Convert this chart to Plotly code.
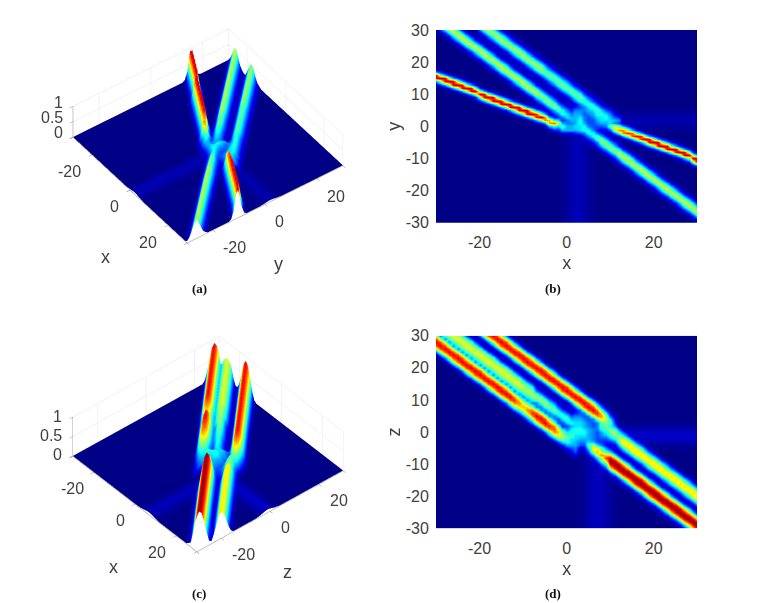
import plotly.graph_objects as go

# Cross-section samples: "x:first_y:values", one token per x column.
# Each value character is base 36, in twentieths of the field height (k = 1.0).
B_RIDGE_LEFT_RED = """
-30:13:16ii61 -29:13:3aja3 -28:12:16ii61 -27:12:3aja3 -26:11:16ii61 -25:11:3aja3
-24:10:16ii61 -23:10:3aja3 -22:9:16ii61 -21:9:3aja3 -20:8:3aja3 -19:7:16ii61
-18:7:3aja3 -17:6:16ii61 -16:6:3aja3 -15:5:16ii61 -14:5:3aja3 -13:4:16ii61
-12:4:3aja3 -11:3:16ii61 -10:3:3aja3 -9:2:16ii61 -8:2:3aja3 -7:1:16hh61
-6:1:3aja3 -5:0:16ff61 -4:-1:16ee61 -3:-1:38g83 -2:-1:37c73 -1:-2:16961
"""
B_RIDGE_RIGHT_RED = """
10:-2:14a41 11:-3:15cc51 12:-3:29f92 13:-4:16ff61 14:-4:3aha3 15:-5:16gg61
16:-5:3aia3 17:-6:16hh61 18:-6:3aja3 19:-7:16ii61 20:-7:3aja3 21:-8:16ii61
22:-8:3aja3 23:-9:16ii61 24:-9:3aja3 25:-10:16ii61 26:-10:3aja3 27:-11:16ii61
28:-11:3aja3 29:-12:3aja3 30:-13:16ii61
"""
B_RIDGE_LOWER_GREEN = """
-29:29:137bb731 -28:28:137bb731 -27:27:137bb731 -26:26:137bb731 -25:25:137bb731
-24:24:137bb731 -23:23:137bb731 -22:22:137bb731 -21:21:137bb731 -20:20:137bb731
-19:19:137bb731 -18:18:137bb731 -17:17:137bb731 -16:16:137bb731 -15:15:137bb731
-14:14:137bb731 -13:13:137bb731 -12:12:137bb731 -11:11:137bb731 -10:10:137bb731
-9:9:137bb731 -8:8:137bb731 -7:7:137bb731 -6:6:136aa631 -5:5:136aa631
-4:4:136aa631 -3:3:136aa631 -2:2:13599531 -1:1:13588531 0:0:13577531 1:-1:13566531
"""
B_RIDGE_UPPER_GREEN = """
-20:28:1259b9521 -19:27:1259b9521 -18:26:1259b9521 -17:25:1259b9521 -16:24:1259b9521
-15:23:1259b9521 -14:22:1259b9521 -13:21:1259b9521 -12:20:1259b9521 -11:19:1259b9521
-10:18:1259b9521 -9:17:1259b9521 -8:16:1259b9521 -7:15:1259b9521 -6:14:1259b9521
-5:13:1258a8521 -4:12:1258a8521 -3:11:1258a8521 -2:10:1258a8521 -1:9:1258a8521
0:8:1258a8521 1:7:1258a8521 2:6:1258a8521 3:5:1258a8521 4:4:124797421
5:3:124797421 6:2:124797421 7:1:124797421 8:0:124686421 9:-1:124686421 10:-2:124565421
"""
B_RIDGE_RIGHT_GREEN = """
3:-3:13577531 4:-4:13588531 5:-5:13588531 6:-6:13588531 7:-7:13599531
8:-8:136aa631 9:-9:136aa631 10:-10:136aa631 11:-11:136aa631 12:-12:137bb731
13:-13:137bb731 14:-14:137bb731 15:-15:137bb731 16:-16:137bb731 17:-17:137bb731
18:-18:137bb731 19:-19:137bb731 20:-20:137bb731 21:-21:137bb731 22:-22:137bb731
23:-23:137bb731 24:-24:137bb731 25:-25:137bb731 26:-26:137bb731 27:-27:137bb731
28:-28:137bb731 29:-29:137bb731 30:-30:137bb731
"""
B_CENTRE = """
-2:-3:013200000000 -1:-3:025653110000 0:-3:026654322100 1:-3:026655543210
2:-3:036766665321 3:-3:147788765432 4:-3:256665545543 5:-3:245544456654
6:-3:134444567742 7:-3:123456788631 8:-3:112467787421 9:-3:112567874210
10:-3:112577653100 11:-3:011356421000 12:-3:001245310000
"""
B_FAINT_COL_X = [-1, 0, 1, 2, 3, 4, 5, 6]
B_FAINT_COL_LEVEL = [0.01, 0.02, 0.035, 0.05, 0.05, 0.035, 0.02, 0.01]
B_FAINT_ROW_Y = [-1, 0, 1, 2, 3, 4, 5]
B_FAINT_ROW_LEVEL = [0.01, 0.02, 0.035, 0.045, 0.035, 0.02, 0.01]

D_RIDGE_LOWER_RED = """
-30:24:15bgigb51 -29:23:15bgigb51 -28:22:15bgigb51 -27:21:15bgigb51 -26:20:15bgigb51
-25:19:15bgigb51 -24:18:15bgigb51 -23:17:15bgigb51 -22:16:15bgigb51 -21:15:15bgigb51
-20:14:15bgigb51 -19:13:15bgigb51 -18:12:15bgigb51 -17:11:15bgigb51 -16:10:15bgigb51
-15:9:15bgigb51 -14:8:15bgigb51 -13:7:15bgigb51 -12:6:15afhfa51 -11:5:159dfd951
-10:4:159cec951 -9:3:159dfd951 -8:2:15afhfa51 -7:1:15bgigb51 -6:0:15bgigb51
-5:-1:15bgigb51 -4:-2:15afhfa51 -3:-3:15afgfa51 -2:-4:149cec941 -1:-5:137aba731
0:-6:136898631 1:-7:124676421 2:-8:124565421
"""
D_RIDGE_MIDDLE_YELLOW = """
-28:28:149bcb941 -27:27:149bcb941 -26:26:149bcb941 -25:25:149bcb941 -24:24:149bcb941
-23:23:149bcb941 -22:22:149bcb941 -21:21:149bcb941 -20:20:149bcb941 -19:19:149bcb941
-18:18:149bcb941 -17:17:149bcb941 -16:16:149bcb941 -15:15:149bcb941 -14:14:149bcb941
-13:13:149bcb941 -12:12:149bcb941 -11:11:149bcb941 -10:10:148aba841 -9:9:148aba841
-8:8:148aba841 -7:7:1259b9521 -6:6:1259b9521 -5:5:1259b9521 -4:4:1258a8521
-3:3:1258a8521 -2:2:124797421 -1:1:124797421 0:0:124797421 1:-1:124686421 2:-2:124676421
"""
D_RIDGE_UPPER_RED = """
-21:30:15bgigb51 -20:29:15bgigb51 -19:28:15bgigb51 -18:27:15bgigb51 -17:26:15bgigb51
-16:25:15bgigb51 -15:24:15bgigb51 -14:23:15bgigb51 -13:22:15bgigb51 -12:21:15bgigb51
-11:20:15bgigb51 -10:19:15bgigb51 -9:18:15bgigb51 -8:17:15bgigb51 -7:16:15bgigb51
-6:15:15bgigb51 -5:14:15bgigb51 -4:13:15bgigb51 -3:12:15bgigb51 -2:11:15bgigb51
-1:10:15bgigb51 0:9:15bgigb51 1:8:15bgigb51 2:7:15bgigb51 3:6:15bgigb51
4:5:15bgigb51 5:4:15bgigb51 6:3:15bgigb51 7:2:15afhfa51 8:1:159dfd951
9:0:137aba731 10:-1:124797421
"""
D_RIDGE_RIGHT_YELLOW = """
10:-4:124797421 11:-5:1258a8521 12:-6:147aba741 13:-7:148cdc841 14:-8:148cdc841
15:-9:148cdc841 16:-10:148cdc841 17:-11:148cdc841 18:-12:148cdc841 19:-13:148cdc841
20:-14:148cdc841 21:-15:148cdc841 22:-16:148cdc841 23:-17:148cdc841 24:-18:148cdc841
25:-19:148cdc841 26:-20:148cdc841 27:-21:148cdc841 28:-22:148cdc841 29:-23:148cdc841
30:-24:148cdc841
"""
D_RIDGE_RIGHT_RED = """
5:-8:124797421 6:-9:136bdb631 7:-10:147cec741 8:-11:159bfb951 9:-12:159dhd951 10:-14:127dikid721
11:-15:127dikid721 12:-16:127dikid721 13:-17:127dikid721 14:-18:127dikid721
15:-19:127dikid721 16:-20:127dikid721 17:-21:127dikid721 18:-22:127dikid721
19:-23:127dikid721 20:-24:127dikid721 21:-25:127dikid721 22:-26:127dikid721
23:-27:127dikid721 24:-28:127dikid721 25:-29:127dikid721 26:-30:127dikid721
27:-31:127dikid721 28:-32:127dikid721 29:-33:127dikid721 30:-34:127dikid721
"""
D_CENTRE = """
0:-7:001368975433210 1:-7:001367987654321 2:-7:012467788776532 3:-7:012456788776542
4:-7:012456787665443 5:-7:013456666554433 6:-7:013455555444444 7:-7:012344445556665
8:-7:001234568998642 9:-7:001234689997421 10:-7:0012368aa864210 11:-7:001247ab8532100
"""
D_FAINT_COL_X = [3, 4, 5, 6, 7, 8, 9, 10, 11]
D_FAINT_COL_LEVEL = [0.01, 0.02, 0.035, 0.05, 0.055, 0.05, 0.035, 0.02, 0.01]
D_FAINT_ROW_Y = [-5, -4, -3, -2, -1, 0, 1, 2, 3]
D_FAINT_ROW_LEVEL = [0.01, 0.02, 0.04, 0.06, 0.07, 0.06, 0.04, 0.02, 0.01]

GRID = list(range(-30, 31))
X_TICKS = [-20, 0, 20]
Y_TICKS = [-30, -20, -10, 0, 10, 20, 30]
Z_TICKS = [0, 0.5, 1]
Z_LABELS = ["0", "0.5", "1"]
CAPTIONS = ["(a)", "(b)", "(c)", "(d)"]
JET = [[0, "rgb(0,0,135)"], [0.125, "rgb(0,0,255)"], [0.375, "rgb(0,255,255)"],
       [0.625, "rgb(255,255,0)"], [0.875, "rgb(255,0,0)"], [1, "rgb(128,0,0)"]]
INK = "#404040"
SANS = "Liberation Sans"


def field(ridges, col_x, col_level, col_top, row_y, row_level, row_start):
    z = [[0.0] * 61 for _ in GRID]
    for x, level in zip(col_x, col_level):
        for y in GRID:
            if y <= col_top:
                z[y + 30][x + 30] = level
    for y, level in zip(row_y, row_level):
        for x in GRID:
            if x >= row_start:
                z[y + 30][x + 30] = max(z[y + 30][x + 30], level)
    for spec in ridges:
        for token in spec.split():
            x, first, values = token.split(":")
            for i, ch in enumerate(values):
                row = int(first) + i + 30
                if 0 <= row <= 60:
                    col = int(x) + 30
                    z[row][col] = max(z[row][col], int(ch, 36) / 20)
    return z


Z_XY = field([B_RIDGE_LEFT_RED, B_RIDGE_RIGHT_RED, B_RIDGE_LOWER_GREEN, B_RIDGE_UPPER_GREEN,
              B_RIDGE_RIGHT_GREEN, B_CENTRE],
             B_FAINT_COL_X, B_FAINT_COL_LEVEL, -2, B_FAINT_ROW_Y, B_FAINT_ROW_LEVEL, 11)
Z_XZ = field([D_RIDGE_LOWER_RED, D_RIDGE_MIDDLE_YELLOW, D_RIDGE_UPPER_RED, D_RIDGE_RIGHT_YELLOW,
              D_RIDGE_RIGHT_RED, D_CENTRE],
             D_FAINT_COL_X, D_FAINT_COL_LEVEL, -6, D_FAINT_ROW_Y, D_FAINT_ROW_LEVEL, 12)

W, H = 768, 603
fig = go.Figure()
FLAT = dict(ambient=1, diffuse=0, specular=0, roughness=1, fresnel=0)
fig.add_trace(go.Surface(x=GRID, y=GRID, z=Z_XY, colorscale=JET, cmin=0, cmax=1, showscale=False,
                         lighting=FLAT, hoverinfo="skip", scene="scene"))
fig.add_trace(go.Surface(x=GRID, y=GRID, z=Z_XZ, colorscale=JET, cmin=0, cmax=1, showscale=False,
                         lighting=FLAT, hoverinfo="skip", scene="scene2"))
fig.add_trace(go.Heatmap(x=GRID, y=GRID, z=Z_XY, colorscale=JET, zmin=0, zmax=1, zsmooth="best",
                         showscale=False, hoverinfo="skip", xaxis="x", yaxis="y"))
fig.add_trace(go.Heatmap(x=GRID, y=GRID, z=Z_XZ, colorscale=JET, zmin=0, zmax=1, zsmooth="best",
                         showscale=False, hoverinfo="skip", xaxis="x2", yaxis="y2"))


def axis3d(vals, rng):
    return dict(title=dict(text=""), tickmode="array", tickvals=vals, showticklabels=False,
                showbackground=False, gridcolor="#e4e4e4", gridwidth=1, zeroline=False,
                showline=True, linecolor="#8a8a8a", linewidth=1, ticks="outside", ticklen=4,
                tickcolor="#8a8a8a", showspikes=False, range=rng)


def label(x, y, z, text, anchor, xshift, yshift, size=16):
    return dict(x=x, y=y, z=z, text=text, showarrow=False, xanchor=anchor, yanchor="middle",
                xshift=xshift, yshift=yshift, font=dict(family=SANS, size=size, color=INK))


def scene(px_left, px_right, px_top, px_bottom, eye, side, z_aspect, ytitle, shifts):
    notes = [label(v, -30, 0, str(v), "right", shifts["x"][0], shifts["x"][1]) for v in X_TICKS]
    notes += [label(30, v, 0, str(v), "left", shifts["y"][0], shifts["y"][1]) for v in X_TICKS]
    notes += [label(-30, -30, v, t, "right", shifts["z"][0], shifts["z"][1])
              for v, t in zip(Z_TICKS, Z_LABELS)]
    notes.append(label(0, -30, 0, "x", "center", shifts["xt"][0], shifts["xt"][1], 18))
    notes.append(label(30, 0, 0, ytitle, "center", shifts["yt"][0], shifts["yt"][1], 18))
    return dict(domain=dict(x=[px_left / W, px_right / W], y=[1 - px_bottom / H, 1 - px_top / H]),
                camera=dict(eye=dict(x=eye[0], y=eye[1], z=eye[2]), up=dict(x=0, y=0, z=1),
                            center=dict(x=0, y=0, z=0), projection=dict(type="orthographic")),
                aspectmode="manual", aspectratio=dict(x=side, y=side, z=side * z_aspect),
                xaxis=axis3d([-30] + X_TICKS + [30], [-30, 30]),
                yaxis=axis3d([-30] + X_TICKS + [30], [-30, 30]),
                zaxis=axis3d(Z_TICKS, [-0.012, 1]), bgcolor="white", annotations=notes)


def axis2d(dom, title, ticks, ticklen, standoff):
    return dict(domain=dom, range=[-30, 30], tickmode="array", tickvals=ticks,
                ticktext=[str(v) for v in ticks],
                tickfont=dict(family=SANS, size=16, color=INK), ticks="outside", ticklen=ticklen,
                tickcolor="rgba(255,255,255,0)", showgrid=False, zeroline=False, showline=False,
                title=dict(text=title, font=dict(family=SANS, size=18, color=INK), standoff=standoff))


SHIFTS_A = dict(x=(-9, -17), y=(8, -18), z=(-8, 4), xt=(-25, -67), yt=(13, -60))
SHIFTS_C = dict(x=(-8, -17), y=(9, -17), z=(-9, 1), xt=(-21, -63), yt=(17, -61))

fig.update_layout(
    width=W, height=H, margin=dict(l=0, r=0, t=0, b=0, autoexpand=False),
    paper_bgcolor="white", plot_bgcolor="white", showlegend=False,
    scene=scene(38, 378, 0, 272, (0.586, -0.429, 0.670), 1.42, 0.2185, "y", SHIFTS_A),
    scene2=scene(38, 378, 304, 584, (0.578, -0.490, 0.652), 1.37, 0.27, "z", SHIFTS_C),
    xaxis=axis2d([436 / W, 697.3 / W], "x", X_TICKS, 5, 6),
    yaxis=axis2d([1 - 222.7 / H, 1 - 30 / H], "y", Y_TICKS, 3, 0),
    xaxis2=axis2d([436 / W, 697.3 / W], "x", X_TICKS, 5, 6),
    yaxis2=axis2d([1 - 528.3 / H, 1 - 335.7 / H], "z", Y_TICKS, 3, 0),
)
fig.layout.xaxis.anchor = "y"
fig.layout.yaxis.anchor = "x"
fig.layout.xaxis2.anchor = "y2"
fig.layout.yaxis2.anchor = "x2"

for text, px, py in zip(CAPTIONS, [199, 553, 199, 553], [288, 288, 593, 593]):
    fig.add_annotation(text="<b>%s</b>" % text, x=px / W, y=1 - py / H, xref="paper", yref="paper",
                       showarrow=False, xanchor="center", yanchor="middle",
                       font=dict(family="Liberation Serif", size=13, color="#101010"))

fig.write_html("out.html", post_script="document.body.style.margin='0';",
               config={"displayModeBar": False})
